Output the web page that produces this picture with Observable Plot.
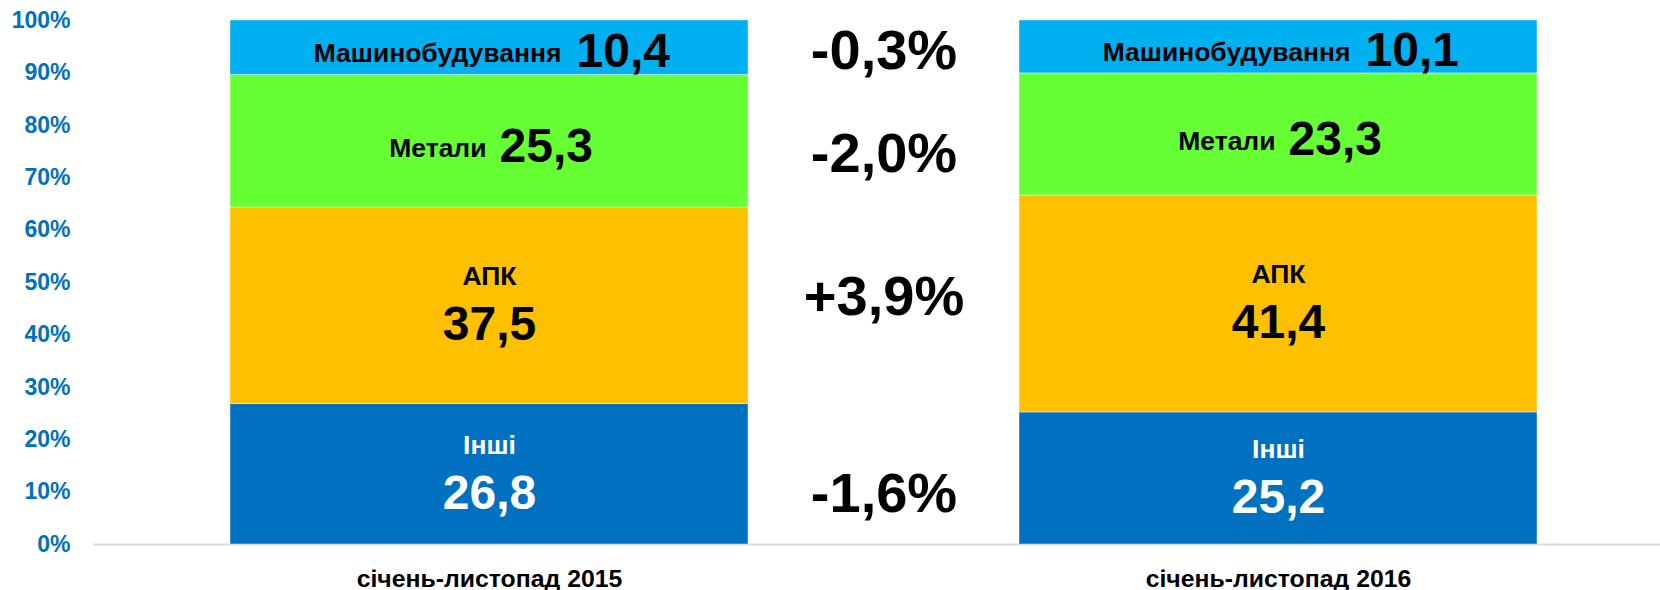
<!DOCTYPE html>
<html><head><meta charset="utf-8">
<script src="https://cdn.jsdelivr.net/npm/d3@7"></script>
<script src="https://cdn.jsdelivr.net/npm/@observablehq/plot@0.6"></script>
<style>body{margin:0;background:#fff;}</style>
</head><body><div id="chart"></div>
<script>
const periods = ["січень-листопад 2015", "січень-листопад 2016"];
const sectors = ["Інші", "АПК", "Метали", "Машинобудування"];
const shares2015 = [26.8, 37.5, 25.3, 10.4];
const shares2016 = [25.2, 41.4, 23.3, 10.1];
const yTicks = [0, 10, 20, 30, 40, 50, 60, 70, 80, 90, 100];

// styling
const sectorColors = ["#0070C0", "#FFC000", "#66FF33", "#00B0F0"];
const labelColors = ["#ffffff", "#000000", "#000000", "#000000"];
const changeNudge = [18, -8, 16, 4];   // vertical fine-tuning (px) of the change labels
const FONT = "Liberation Sans, Arial, Helvetica, sans-serif";

const comma = v => v.toFixed(1).replace(".", ",");

const rows = [];
[shares2015, shares2016].forEach((vals, pi) => {
  let cum = 0;
  vals.forEach((v, si) => {
    rows.push({period: periods[pi], sector: sectors[si], idx: si, value: v, mid: cum + v / 2});
    cum += v;
  });
});

const changes = sectors.map((s, i) => {
  const d = shares2016[i] - shares2015[i];
  let c2015 = 0, c2016 = 0;
  for (let k = 0; k < i; k++) { c2015 += shares2015[k]; c2016 += shares2016[k]; }
  const mid = ((c2015 + shares2015[i] / 2) + (c2016 + shares2016[i] / 2)) / 2;
  return {sector: s, idx: i, text: (d > 0 ? "+" : "") + comma(d) + "%", y: mid};
});

const twoLine = rows.filter(d => d.idx <= 1);
const met = rows.filter(d => d.idx === 2);
const mash = rows.filter(d => d.idx === 3);

const textBase = {fontFamily: FONT, fontWeight: "bold", fill: d => labelColors[d.idx], lineAnchor: "middle"};
const SMALL = 26.5, BIG = 48;

const marks = [
  Plot.ruleY([0], {stroke: "#d9d9d9", strokeWidth: 2}),
  Plot.barY(rows, {x: "period", y: "value", fill: "sector", stroke: "#ffffff", strokeWidth: 0.6, strokeOpacity: 0.7}),
  // two-line labels
  Plot.text(twoLine, {...textBase, x: "period", y: "mid", text: "sector", fontSize: SMALL, dy: -29}),
  Plot.text(twoLine, {...textBase, x: "period", y: "mid", text: d => comma(d.value), fontSize: BIG, dy: 19}),
  // Метали: one line
  Plot.text(met, {...textBase, x: "period", y: "mid", text: "sector", fontSize: SMALL, textAnchor: "end", dx: -3, dy: 7}),
  Plot.text(met, {...textBase, x: "period", y: "mid", text: d => comma(d.value), fontSize: BIG, textAnchor: "start", dx: 10, dy: 5}),
  // Машинобудування: one line
  Plot.text(mash, {...textBase, x: "period", y: "mid", text: "sector", fontSize: SMALL, textAnchor: "end", dx: 72, dy: 6}),
  Plot.text(mash, {...textBase, x: "period", y: "mid", text: d => comma(d.value), fontSize: BIG, textAnchor: "start", dx: 87, dy: 4}),
  // change labels in the gap between the bars
  ...changes.map(c => Plot.text([c], {y: "y", text: "text", fontFamily: FONT, fontWeight: "bold", fontSize: 56, fill: "#000", lineAnchor: "middle", dx: 7, dy: changeNudge[c.idx]})),
  Plot.axisY({ticks: yTicks, tickFormat: d => d + "%", tickSize: 0, tickPadding: 23, fontSize: 23, fontWeight: "bold", fill: "#0070C0", fontFamily: FONT, label: null}),
  Plot.axisX({tickSize: 0, tickPadding: 25, fontSize: 24.8, fontWeight: "bold", fill: "#000", fontFamily: FONT, label: null})
];

const chart = Plot.plot({
  width: 1660,
  height: 590,
  marginTop: 20,
  marginBottom: 46,
  marginLeft: 93,
  marginRight: 0,
  x: {type: "band", domain: periods, paddingInner: 0.344, paddingOuter: 0.164, align: 0.527, axis: null},
  y: {domain: [0, 100], axis: null},
  color: {domain: sectors, range: sectorColors},
  style: {background: "#fff", overflow: "visible"},
  marks
});
document.getElementById("chart").appendChild(chart);
</script>
</body></html>
